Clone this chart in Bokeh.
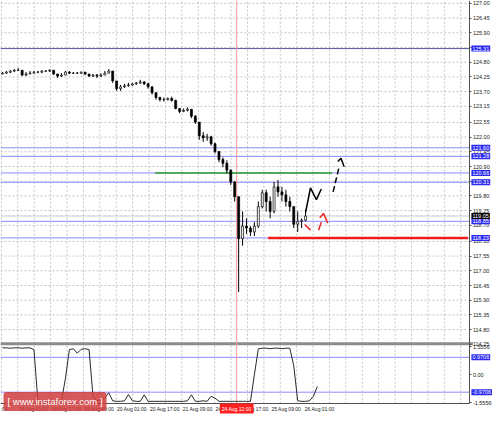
from bokeh.plotting import figure
from bokeh.models import Range1d, LinearAxis, FixedTicker, PrintfTickFormatter, Label
from bokeh.embed import file_html
from bokeh.resources import INLINE

# ---------------- data (USD/JPY, bars) ----------------
opens = [124.36, 124.39, 124.43, 124.47, 124.50, 124.50, 124.32, 124.36, 124.39, 124.43,
         124.43, 124.47, 124.47, 124.50, 124.36, 124.28, 124.32, 124.43, 124.39, 124.39,
         124.39, 124.43, 124.36, 124.28, 124.32, 124.28, 124.32, 124.39, 124.47, 124.10,
         123.81, 123.88, 123.92, 123.95, 123.99, 124.03, 124.06, 123.99, 123.88, 123.66,
         123.48, 123.40, 123.40, 123.44, 123.37, 123.07, 122.96, 123.00, 123.04, 122.78,
         122.56, 122.05, 121.97, 122.01, 121.75, 121.46, 121.16, 121.02, 120.76, 120.32,
         119.77, 118.20, 118.67, 118.60, 118.45, 118.67, 119.40, 119.92, 119.59, 119.22,
         120.14, 119.95, 119.84, 119.59, 119.40, 118.74, 118.85, 118.89]
highs = [124.43, 124.47, 124.50, 124.54, 124.58, 124.50, 124.43, 124.47, 124.47, 124.47,
         124.50, 124.50, 124.54, 124.50, 124.36, 124.39, 124.47, 124.47, 124.43, 124.43,
         124.45, 124.43, 124.36, 124.36, 124.36, 124.39, 124.47, 124.54, 124.47, 124.10,
         123.95, 123.99, 124.03, 124.03, 124.06, 124.14, 124.10, 124.03, 123.88, 123.66,
         123.51, 123.48, 123.48, 123.51, 123.40, 123.07, 123.07, 123.11, 123.04, 122.82,
         122.56, 122.19, 122.12, 122.05, 121.79, 121.46, 121.24, 121.13, 120.80, 120.36,
         119.77, 119.22, 118.96, 118.67, 118.82, 119.59, 120.03, 120.03, 119.77, 120.32,
         120.39, 120.14, 120.03, 119.77, 119.40, 119.22, 118.96, 119.29]
lows = [124.36, 124.36, 124.39, 124.43, 124.47, 124.28, 124.28, 124.36, 124.39, 124.39,
        124.39, 124.43, 124.43, 124.32, 124.21, 124.25, 124.32, 124.36, 124.36, 124.36,
        124.36, 124.32, 124.25, 124.25, 124.21, 124.25, 124.32, 124.39, 124.03, 123.73,
        123.73, 123.84, 123.88, 123.92, 123.95, 123.99, 123.95, 123.81, 123.59, 123.40,
        123.33, 123.33, 123.37, 123.33, 123.04, 122.89, 122.93, 122.96, 122.71, 122.49,
        121.90, 121.82, 121.86, 121.68, 121.39, 121.06, 120.87, 120.65, 120.21, 119.59,
        116.21, 117.94, 118.38, 118.30, 118.30, 118.60, 119.33, 119.22, 118.96, 119.15,
        119.77, 119.59, 119.40, 119.22, 118.60, 118.45, 118.60, 118.85]
closes = [124.39, 124.43, 124.47, 124.50, 124.50, 124.32, 124.36, 124.39, 124.43, 124.43,
          124.47, 124.47, 124.50, 124.36, 124.28, 124.32, 124.43, 124.39, 124.39, 124.39,
          124.43, 124.36, 124.28, 124.32, 124.28, 124.32, 124.39, 124.47, 124.10, 123.81,
          123.88, 123.92, 123.95, 123.99, 124.03, 124.06, 123.99, 123.88, 123.66, 123.48,
          123.40, 123.40, 123.44, 123.37, 123.07, 122.96, 123.00, 123.04, 122.78, 122.56,
          122.05, 121.97, 122.01, 121.75, 121.46, 121.16, 121.02, 120.76, 120.32, 119.77,
          118.20, 118.67, 118.60, 118.45, 118.67, 119.40, 119.92, 119.59, 119.22, 120.14,
          119.95, 119.84, 119.59, 119.40, 118.74, 118.85, 118.89, 119.05]

indicator = [1.50, 1.50, 1.48, 1.50, 1.50, 1.48, 1.50, 1.50, 1.40, -1.45,
             -1.48, -1.48, -1.48, -1.48, -1.48, -1.45, -0.20, 1.40, 1.45, 1.20,
             1.42, 1.45, 1.40, -1.20, -1.45, -1.40, -1.30, -1.00, -1.45, -1.48,
             -1.48, -1.45, -1.10, -1.45, -1.48, -1.48, -1.12, -1.48, -1.48, -1.48,
             -1.48, -1.48, -1.48, -1.48, -1.48, -1.48, -1.48, -1.45, -1.12, -1.48,
             -1.48, -1.45, -1.48, -1.20, -1.30, -1.48, -1.48, -1.48, -1.48, -1.48,
             -1.48, -1.48, -1.48, -1.48, 0.00, 1.45, 1.48, 1.48, 1.45, 1.48,
             1.48, 1.45, 1.48, 1.48, 0.50, -1.45, -1.48, -1.48, -1.45, -1.20,
             -0.65]

blue_levels = [121.60, 121.28, 120.66, 120.31, 118.85, 118.23]
top_level = 125.31
current_price = 119.05
resistance = 120.66
support = 118.23
ind_levels = [0.9706, -0.9706]
ind_tick_values = [1.5556, 0.0, -1.5556]
price_ticks = [127.00, 126.45, 125.90, 125.35, 124.80, 124.25, 123.70, 123.15, 122.55,
               122.00, 121.45, 120.90, 120.35, 119.80, 119.25, 118.70, 118.10, 117.55,
               117.00, 116.45, 115.90, 115.35, 114.80, 114.25]
time_labels = ["18 Aug 01:00", "18 Aug 17:00", "19 Aug 09:00", "20 Aug 01:00",
               "20 Aug 17:00", "21 Aug 09:00", "24 Aug 01:00", "24 Aug 17:00",
               "25 Aug 09:00", "26 Aug 01:00"]
time_label_bars = [8.4, 16.75, 25.08, 33.4, 41.75, 50.08, 58.4, 64.3, 72.6, 81.1]
event_bar = 60.0
event_label = "24 Aug 12:00"

# hand-drawn forecast annotations (bar index, price)
fc_black_x = [77.5, 78.75, 80.25, 81.5]
fc_black_y = [119.18, 120.10, 119.66, 120.06]
fc_black_dash_x = [84.5, 86.0]
fc_black_dash_y = [119.95, 120.87]
fc_black_head_x = [85.7, 86.5, 87.3]
fc_black_head_y = [121.09, 121.21, 120.89]
fc_red1_x = [77.3, 78.75]
fc_red1_y = [118.73, 118.52]
fc_red2_x = [80.8, 81.5]
fc_red2_y = [118.52, 118.82]
fc_red_head_x = [81.1, 82.1, 83.1]
fc_red_head_y = [118.98, 119.14, 118.79]
resistance_span = [39.25, 84.25]
support_span = [68.0, 118.75]

# ---------------- geometry ----------------
W, H = 492, 416
AXIS_X_PX = 469.4            # right edge of the chart area
AXIS_Y_PX = 403.2            # bottom edge of the chart area
PX_PER_UNIT = 27.26          # reference pixels per yen
REF_Y_ANCHOR = 49            # reference pixel row of 125.31
REF_FRAME_H = 411
Y_TOP = top_level + REF_Y_ANCHOR / PX_PER_UNIT
Y_BOT = top_level - (REF_FRAME_H - REF_Y_ANCHOR) / PX_PER_UNIT
Y_SEP = top_level - (350 - REF_Y_ANCHOR) / PX_PER_UNIT
YR_BOT = Y_TOP - (Y_TOP - Y_BOT) * H / AXIS_Y_PX
IND_PX = 18.3
IND_ZERO = 381.5
I_TOP = IND_ZERO / IND_PX
I_BOT = -(REF_FRAME_H - IND_ZERO) / IND_PX
IR_BOT = I_TOP - (I_TOP - I_BOT) * H / AXIS_Y_PX
X_END = 477 / 4.0
X_MAX = X_END * W / AXIS_X_PX


def ind_to_price(v):
    return round(YR_BOT + (v - IR_BOT) / (I_TOP - IR_BOT) * (Y_TOP - YR_BOT), 6)


def price_at(fy):
    return Y_TOP - fy / H * (Y_TOP - YR_BOT)


p = figure(width=W, height=H, output_backend="svg", toolbar_location=None,
           x_range=Range1d(0, X_MAX), y_range=Range1d(YR_BOT, Y_TOP),
           x_axis_location=None, y_axis_location=None,
           min_border=0, min_border_left=0, min_border_top=0,
           min_border_right=0, min_border_bottom=0,
           background_fill_color="white", border_fill_color="white")
p.outline_line_color = None
p.extra_y_ranges = {"ind": Range1d(IR_BOT, I_TOP)}
for g in p.grid:
    g.visible = False

GRID = dict(line_color="#c4c4c4", line_dash="2 2", line_width=1)
grid_x = [(0.93 + 16.67 * k) / 4.0 for k in range(29)]
p.segment(x0=grid_x, y0=[Y_BOT] * len(grid_x), x1=grid_x, y1=[Y_TOP] * len(grid_x), **GRID)
p.segment(x0=[0] * len(price_ticks), y0=price_ticks, x1=[X_END] * len(price_ticks),
          y1=price_ticks, **GRID)

# axes, pinned at the edge of the chart area
ind_tick_pos = [ind_to_price(v) for v in ind_tick_values]
overrides = {pos: (f"{v:.4f}" if v != 0 else "0.00") for pos, v in zip(ind_tick_pos, ind_tick_values)}
AX = dict(major_label_text_font="Liberation Sans", major_label_text_color="#202020",
          major_tick_in=0, minor_tick_out=0, minor_tick_in=0,
          axis_line_color="#505050", major_tick_line_color="#505050")
yaxis = LinearAxis(ticker=FixedTicker(ticks=price_ticks + ind_tick_pos),
                   formatter=PrintfTickFormatter(format="%.2f"),
                   major_label_overrides=overrides, major_label_text_font_size="5.5px",
                   major_tick_out=2, major_label_standoff=1,
                   fixed_location=X_END, bounds=(Y_BOT, Y_TOP), **AX)
p.add_layout(yaxis, "right")

xaxis = LinearAxis(ticker=FixedTicker(ticks=time_label_bars),
                   major_label_overrides={b: t for b, t in zip(time_label_bars, time_labels)},
                   major_label_text_font_size="5px", major_tick_out=0,
                   major_label_standoff=2, fixed_location=Y_BOT, bounds=(0, X_END), **AX)
p.add_layout(xaxis, "below")


def hline(y, x0, x1, color, width=1.0, rng="default", dash="solid"):
    p.segment(x0=[x0], y0=[y], x1=[x1], y1=[y], line_color=color, line_width=width,
              y_range_name=rng, line_dash=dash)


# horizontal levels
hline(top_level, 0, X_END, "#5a5aa8")
for lv in blue_levels:
    hline(lv, 0, X_END, "#8a8aff")
hline(current_price, 0, X_END, "#c8c8c8")
hline(Y_SEP, 0, X_END + 0.8, "#8c8c8c", 3)
for lv in ind_levels:
    hline(lv, 0, X_END, "#8a8aff", rng="ind")
p.segment(x0=[event_bar], y0=[Y_BOT], x1=[event_bar], y1=[Y_TOP],
          line_color="#ff9a9a", line_width=1)

hline(resistance, resistance_span[0], resistance_span[1], "#2e9e2e", 1.5)

# candles
xs = [i + 0.5 for i in range(len(closes))]
p.segment(x0=xs, y0=lows, x1=xs, y1=highs, line_color="black", line_width=1)
tops = [max(o, c) for o, c in zip(opens, closes)]
bots = [min(o, c) for o, c in zip(opens, closes)]
fills = ["white" if c >= o else "black" for o, c in zip(opens, closes)]
p.vbar(x=xs, width=0.5, top=tops, bottom=bots, fill_color=fills,
       line_color="black", line_width=0.7)

hline(support, support_span[0], support_span[1], "#ee1c1c", 2.5)

# forecast sketch
p.line(fc_black_x, fc_black_y, line_color="black", line_width=1.5)
p.line(fc_black_dash_x, fc_black_dash_y, line_color="black", line_width=1.5, line_dash="6 3")
p.line(fc_black_head_x, fc_black_head_y, line_color="black", line_width=1.5)
p.line(fc_red1_x, fc_red1_y, line_color="#ee2020", line_width=1.5)
p.line(fc_red2_x, fc_red2_y, line_color="#ee2020", line_width=1.5)
p.line(fc_red_head_x, fc_red_head_y, line_color="#ee2020", line_width=1.5)

# indicator
ind_x = [i + 0.5 for i in range(len(indicator))]
p.line(ind_x, indicator, y_range_name="ind", line_color="#2a2a2a", line_width=1)


# axis price boxes
def price_box(y, text, color, rng="default"):
    p.add_layout(Label(x=X_END, y=y, x_offset=1.5, y_range_name=rng, text=text,
                       text_font="Liberation Sans", text_font_size="5.5px", text_color="white",
                       text_align="left", text_baseline="middle",
                       background_fill_color=color, padding=1))


price_box(top_level, f"{top_level:.2f}", "#2a2af0")
for lv in blue_levels:
    price_box(lv, f"{lv:.2f}", "#2a2af0")
price_box(current_price, f"{current_price:.2f}", "#000000")
for lv in ind_levels:
    price_box(lv, f"{lv:.4f}", "#2a2af0", "ind")

# time-axis box for the vertical marker
p.add_layout(Label(x=event_bar, y=price_at(408), text=event_label,
                   text_font="Liberation Sans", text_font_size="5px", text_color="white",
                   text_align="center", text_baseline="middle",
                   background_fill_color="#ff2020", padding=2))
p.add_layout(Label(x=0, y=price_at(408), text=":00",
                   text_font="Liberation Sans", text_font_size="5px", text_color="#202020",
                   text_align="left", text_baseline="middle"))

# watermark
p.add_layout(Label(x=0, y=price_at(401), x_offset=3, text="[ www.instaforex.com ]",
                   text_font="Liberation Sans", text_font_size="9.5px", text_color="white",
                   text_align="left", text_baseline="middle",
                   background_fill_color="#d03c3c", background_fill_alpha=0.85,
                   padding=4, border_radius=3))

html = file_html(p, INLINE)
open("out.html", "w").write(html)
